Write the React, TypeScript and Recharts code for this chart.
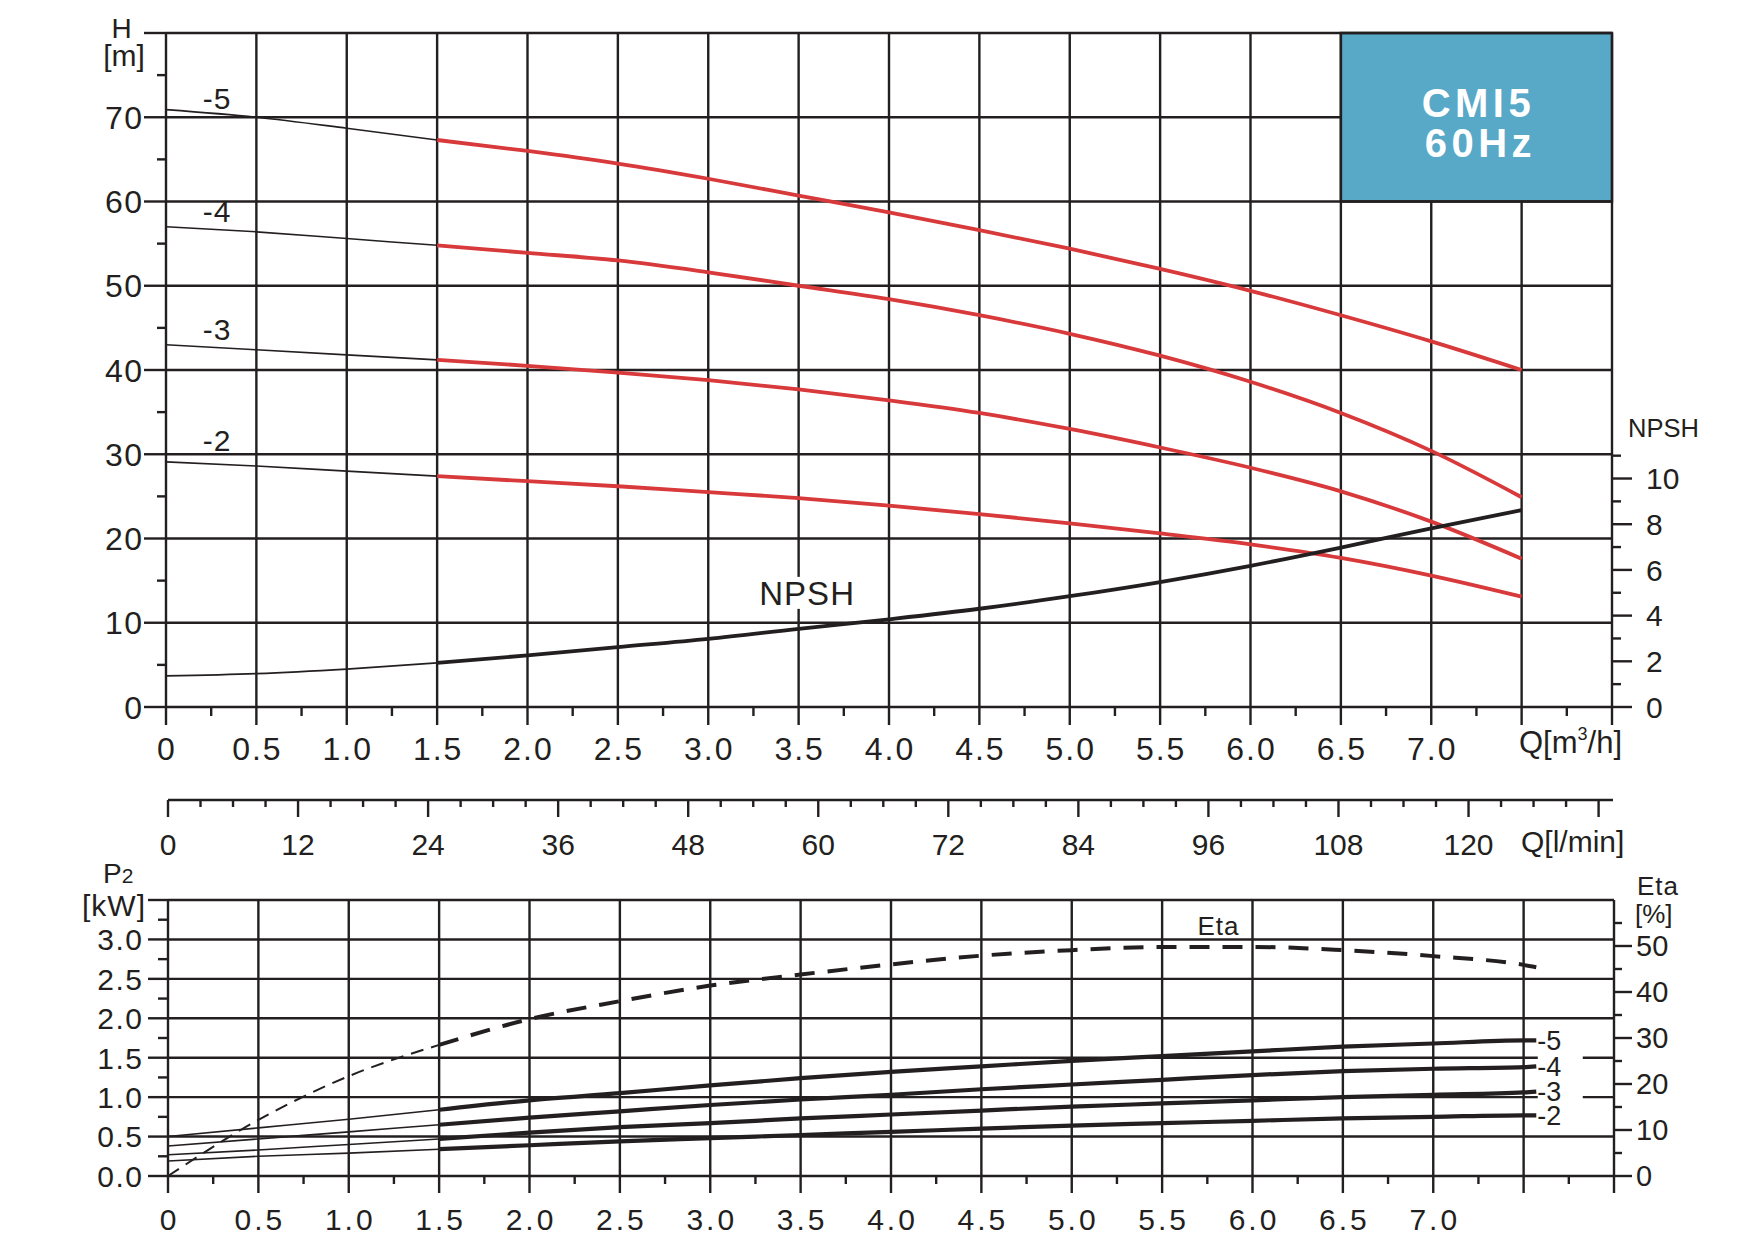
import React from 'react';
import { LineChart, Line, XAxis, YAxis, ReferenceLine, ReferenceArea } from 'recharts';

const INK = '#231f20';
const RED = '#d8393b';
const BADGE = '#58a8c8';
const FONT = '"Liberation Sans", Arial, Helvetica, sans-serif';
const GRID_W = 2.4;

// ---------- Q-H / NPSH section ----------
const flowPoints = [0, 0.5, 1.0, 1.5, 2.0, 2.5, 3.0, 3.5, 4.0, 4.5, 5.0, 5.5, 6.0, 6.5, 7.0, 7.5];
const headStage5 = [70.9, 70.0, 68.7, 67.3, 66.0, 64.5, 62.7, 60.7, 58.7, 56.6, 54.4, 52.0, 49.4, 46.5, 43.4, 40.0];
const headStage4 = [57.0, 56.4, 55.6, 54.8, 53.9, 53.0, 51.6, 50.0, 48.4, 46.5, 44.3, 41.7, 38.6, 34.9, 30.4, 24.9];
const headStage3 = [43.0, 42.4, 41.8, 41.2, 40.5, 39.7, 38.8, 37.7, 36.4, 34.9, 33.0, 30.8, 28.4, 25.6, 22.0, 17.6];
const headStage2 = [29.1, 28.6, 28.0, 27.4, 26.8, 26.2, 25.5, 24.8, 23.9, 22.9, 21.8, 20.6, 19.3, 17.7, 15.6, 13.1];
const npshRequired = [1.36, 1.46, 1.66, 1.93, 2.26, 2.62, 2.98, 3.42, 3.84, 4.3, 4.85, 5.47, 6.18, 6.98, 7.82, 8.62];
const stageNames = ['-5', '-4', '-3', '-2'];

// ---------- P2 / Eta section ----------
const powerFlowPoints = [0, 0.5, 1.0, 1.5, 2.0, 2.5, 3.0, 3.5, 4.0, 4.5, 5.0, 5.5, 6.0, 6.5, 7.0, 7.5, 7.57];
const powerStage5 = [0.5, 0.61, 0.72, 0.84, 0.96, 1.05, 1.15, 1.24, 1.32, 1.39, 1.46, 1.52, 1.58, 1.64, 1.68, 1.72, 1.72];
const powerStage4 = [0.38, 0.47, 0.56, 0.65, 0.74, 0.82, 0.9, 0.97, 1.03, 1.1, 1.16, 1.22, 1.28, 1.33, 1.36, 1.38, 1.39];
const powerStage3 = [0.27, 0.33, 0.4, 0.47, 0.55, 0.62, 0.67, 0.73, 0.78, 0.83, 0.88, 0.92, 0.96, 1.0, 1.03, 1.06, 1.07];
const powerStage2 = [0.19, 0.25, 0.29, 0.34, 0.39, 0.44, 0.48, 0.52, 0.56, 0.6, 0.64, 0.67, 0.7, 0.73, 0.75, 0.77, 0.77];
const efficiency = [0, 12.2, 21.7, 28.5, 34.1, 38.0, 41.4, 43.8, 46.0, 47.9, 49.1, 49.8, 49.8, 49.1, 47.8, 45.9, 45.4];

// ---------- axis ticks and labels ----------
const flowTicks = [0, 0.25, 0.5, 0.75, 1, 1.25, 1.5, 1.75, 2, 2.25, 2.5, 2.75, 3, 3.25, 3.5, 3.75, 4, 4.25, 4.5, 4.75, 5, 5.25, 5.5, 5.75, 6, 6.25, 6.5, 6.75, 7, 7.25, 7.5, 7.75, 8];
const flowLabelStops = [0, 0.5, 1, 1.5, 2, 2.5, 3, 3.5, 4, 4.5, 5, 5.5, 6, 6.5, 7];
const flowLabels = ['0', '0.5', '1.0', '1.5', '2.0', '2.5', '3.0', '3.5', '4.0', '4.5', '5.0', '5.5', '6.0', '6.5', '7.0'];

const headTicks = [0, 5, 10, 15, 20, 25, 30, 35, 40, 45, 50, 55, 60, 65, 70, 75, 80];
const headLabelStops = [0, 10, 20, 30, 40, 50, 60, 70];
const headLabels = ['0', '10', '20', '30', '40', '50', '60', '70'];

const npshTicks = [0, 1, 2, 3, 4, 5, 6, 7, 8, 9, 10, 11];
const npshLabelStops = [0, 2, 4, 6, 8, 10];
const npshLabels = ['0', '2', '4', '6', '8', '10'];

const litreTicks = [0, 3, 6, 9, 12, 15, 18, 21, 24, 27, 30, 33, 36, 39, 42, 45, 48, 51, 54, 57, 60, 63, 66, 69, 72, 75, 78, 81, 84, 87, 90, 93, 96, 99, 102, 105, 108, 111, 114, 117, 120, 123, 126, 129, 132];
const litreLabelStops = [0, 12, 24, 36, 48, 60, 72, 84, 96, 108, 120];
const litreLabels = ['0', '12', '24', '36', '48', '60', '72', '84', '96', '108', '120'];
const litreRange = [0, 133.33];

const powerTicks = [0, 0.25, 0.5, 0.75, 1, 1.25, 1.5, 1.75, 2, 2.25, 2.5, 2.75, 3, 3.25, 3.5];
const powerLabelStops = [0, 0.5, 1, 1.5, 2, 2.5, 3];
const powerLabels = ['0.0', '0.5', '1.0', '1.5', '2.0', '2.5', '3.0'];

const etaTicks = [0, 5, 10, 15, 20, 25, 30, 35, 40, 45, 50, 55];
const etaLabelStops = [0, 10, 20, 30, 40, 50];
const etaLabels = ['0', '10', '20', '30', '40', '50'];

// grid positions
const headGridFlows = [0.5, 1, 1.5, 2, 2.5, 3, 3.5, 4, 4.5, 5, 5.5, 6, 6.5];
const headGridFlowsUnderBadge = [7, 7.5];
const headGridLevels = [10, 20, 30, 40, 50, 60, 80];
const headGridLevelsBesideBadge = [70];
const powerGridFlows = [0.5, 1, 1.5, 2, 2.5, 3, 3.5, 4, 4.5, 5, 5.5, 6, 6.5, 7, 7.5];
const powerGridLevels = [0.5, 1, 1.5, 2, 2.5, 3, 3.5];

// ---------- helpers ----------
const near = (a: number, b: number) => Math.abs(a - b) < 1e-6;
const isMultiple = (v: number, step: number) => near(v / step, Math.round(v / step));
const labelOf = (stops: number[], texts: string[], v: number) => {
  const i = stops.findIndex((s) => near(s, v));
  return i >= 0 ? texts[i] : null;
};
const toPoints = (xs: number[], ys: number[], from: number, to: number) =>
  ys.slice(from, to + 1).map((v, i) => ({ q: xs[from + i], v }));

type TickOpts = {
  side: 'left' | 'right' | 'bottom';
  majorStep: number;
  majorLen: number;
  minorLen: number;
  stops: number[];
  texts: string[];
  gap: number;
  fontSize: number;
  spacing?: number;
};

function axisTick(o: TickOpts) {
  return (props: any) => {
    const { x, y, payload } = props;
    const v = Number(payload?.value);
    const len = isMultiple(v, o.majorStep) ? o.majorLen : o.minorLen;
    const text = labelOf(o.stops, o.texts, v);
    const sp = o.spacing ?? 0;
    const textStyle = { fill: INK, fontFamily: FONT, fontSize: o.fontSize, letterSpacing: sp };
    if (o.side === 'bottom') {
      return (
        <g>
          <line x1={x} x2={x} y1={y} y2={y + len} stroke={INK} strokeWidth={GRID_W} />
          {text !== null && (
            <text x={x + sp / 2} y={y + o.gap + o.fontSize * 0.36} textAnchor="middle" {...textStyle}>
              {text}
            </text>
          )}
        </g>
      );
    }
    const dir = o.side === 'left' ? -1 : 1;
    return (
      <g>
        <line x1={x} x2={x + dir * len} y1={y} y2={y} stroke={INK} strokeWidth={GRID_W} />
        {text !== null && (
          <text
            x={x + dir * o.gap + (dir < 0 ? sp : 0)}
            y={y + o.fontSize * 0.36}
            textAnchor={dir < 0 ? 'end' : 'start'}
            {...textStyle}
          >
            {text}
          </text>
        )}
      </g>
    );
  };
}

const pointOf = (props: any) => {
  const vb = props.viewBox || {};
  return { px: props.x ?? vb.x, py: props.y ?? vb.y };
};

// ---------- tick renderers ----------
const flowTickTop = axisTick({ side: 'bottom', majorStep: 0.5, majorLen: 18, minorLen: 9, stops: flowLabelStops, texts: flowLabels, gap: 41, fontSize: 32, spacing: 2 });
const headTick = axisTick({ side: 'left', majorStep: 10, majorLen: 22, minorLen: 9, stops: headLabelStops, texts: headLabels, gap: 24, fontSize: 32, spacing: 1.5 });
const npshTick = axisTick({ side: 'right', majorStep: 2, majorLen: 20, minorLen: 9, stops: npshLabelStops, texts: npshLabels, gap: 34, fontSize: 30 });
const litreTick = axisTick({ side: 'bottom', majorStep: 12, majorLen: 17, minorLen: 7, stops: litreLabelStops, texts: litreLabels, gap: 44, fontSize: 30 });
const flowTickBottom = axisTick({ side: 'bottom', majorStep: 0.5, majorLen: 17, minorLen: 8, stops: flowLabelStops, texts: flowLabels, gap: 43, fontSize: 30, spacing: 3 });
const powerTick = axisTick({ side: 'left', majorStep: 0.5, majorLen: 20, minorLen: 10, stops: powerLabelStops, texts: powerLabels, gap: 26, fontSize: 30, spacing: 1.5 });
const etaTick = axisTick({ side: 'right', majorStep: 10, majorLen: 18, minorLen: 8, stops: etaLabelStops, texts: etaLabels, gap: 22, fontSize: 29 });

const txt = { fill: INK, fontFamily: FONT };

// ---------- axis titles ----------
const headTitle = () => (
  <g>
    <text x={121.5} y={38} textAnchor="middle" fontSize={28} {...txt}>H</text>
    <text x={124} y={66} textAnchor="middle" fontSize={30} {...txt}>[m]</text>
  </g>
);
const npshTitle = () => (
  <text x={1628} y={436.5} fontSize={25.5} {...txt}>NPSH</text>
);
const flowUnitTitle = () => (
  <text x={1519} y={752.5} fontSize={31} {...txt}>
    Q[m<tspan dy={-13} fontSize={18}>3</tspan>
    <tspan dy={13}>/h]</tspan>
  </text>
);
// middle chart svg starts at page y = 740
const litreUnitTitle = () => (
  <text x={1521} y={852 - 740} fontSize={30} {...txt}>Q[l/min]</text>
);
// bottom chart svg starts at page y = 840
const powerTitle = () => (
  <g>
    <text x={103} y={883 - 840} fontSize={28} {...txt}>
      P<tspan fontSize={21}>2</tspan>
    </text>
    <text x={82} y={915.5 - 840} fontSize={30} letterSpacing={1} {...txt}>[kW]</text>
  </g>
);
const etaTitle = () => (
  <g>
    <text x={1637} y={895 - 840} fontSize={26} letterSpacing={1} {...txt}>Eta</text>
    <text x={1635} y={922.5 - 840} fontSize={26} {...txt}>[%]</text>
  </g>
);

const badgeText = (props: any) => {
  const vb = props.viewBox || {};
  const cx = vb.x + vb.width / 2;
  return (
    <g>
      <text x={cx + 2} y={vb.y + 83.5} textAnchor="middle" fontSize={40} fontWeight="bold" letterSpacing={4.5} fill="#ffffff" fontFamily={FONT}>CMI5</text>
      <text x={cx + 4} y={vb.y + 123.5} textAnchor="middle" fontSize={40} fontWeight="bold" letterSpacing={4.5} fill="#ffffff" fontFamily={FONT}>60Hz</text>
    </g>
  );
};

// ---------- series definitions ----------
const SPLIT = 3; // curves are drawn heavy from Q = 1.5 onwards
const headSeries = [
  { name: stageNames[0], values: headStage5, labelDy: -12 },
  { name: stageNames[1], values: headStage4, labelDy: -16 },
  { name: stageNames[2], values: headStage3, labelDy: -16 },
  { name: stageNames[3], values: headStage2, labelDy: -22 },
];
const powerSeries = [
  { name: stageNames[0], values: powerStage5 },
  { name: stageNames[1], values: powerStage4 },
  { name: stageNames[2], values: powerStage3 },
  { name: stageNames[3], values: powerStage2 },
];

const lastFlow = flowPoints.length - 1;
const lastPower = powerFlowPoints.length - 1;

const stageLabelStart = (name: string, dy: number) => (props: any) => {
  if (props.index !== 0) return null;
  const { px, py } = pointOf(props);
  return (
    <text x={px + 51} y={py + dy + 11} textAnchor="middle" fontSize={30} letterSpacing={1} {...txt}>{name}</text>
  );
};

const stageLabelEnd = (name: string, lastIndex: number) => (props: any) => {
  if (props.index !== lastIndex) return null;
  const { px, py } = pointOf(props);
  return (
    <g>
      <rect x={px + 1.5} y={py - 13} width={45} height={26} fill="#ffffff" />
      <text x={px + 1} y={py + 9.5} fontSize={27} {...txt}>{name}</text>
    </g>
  );
};

const npshCurveLabel = (props: any) => {
  if (props.index !== 4) return null;
  const { px, py } = pointOf(props);
  const cx = px + 8;
  const cy = py - 36;
  return (
    <g>
      <rect x={cx - 50} y={cy - 16} width={100} height={32} fill="#ffffff" />
      <text x={cx + 0.5} y={cy + 12} textAnchor="middle" fontSize={33} letterSpacing={1} {...txt}>NPSH</text>
    </g>
  );
};

const etaCurveLabel = (props: any) => {
  if (props.index !== 9) return null;
  const { px, py } = pointOf(props);
  return (
    <text x={px - 34} y={py - 12} textAnchor="middle" fontSize={26} letterSpacing={1} {...txt}>Eta</text>
  );
};

const gridStroke = { stroke: INK, strokeWidth: GRID_W };
const axisLineStyle = { stroke: INK, strokeWidth: GRID_W };

function HeadChart() {
  return (
    <LineChart width={1759} height={770} margin={{ top: 33, right: 0, bottom: 0, left: 0 }}>
      <XAxis
        type="number"
        dataKey="q"
        domain={[0, 8]}
        ticks={flowTicks}
        interval={0}
        height={63}
        tickSize={0}
        tickMargin={0}
        tickLine={false}
        axisLine={axisLineStyle}
        tick={flowTickTop}
        label={flowUnitTitle}
      />
      <YAxis
        yAxisId="h"
        type="number"
        domain={[0, 80]}
        ticks={headTicks}
        interval={0}
        width={166}
        tickSize={0}
        tickMargin={0}
        tickLine={false}
        axisLine={axisLineStyle}
        tick={headTick}
        label={headTitle}
      />
      <YAxis
        yAxisId="npsh"
        orientation="right"
        type="number"
        domain={[0, 29.5]}
        ticks={npshTicks}
        interval={0}
        width={147}
        tickSize={0}
        tickMargin={0}
        tickLine={false}
        axisLine={axisLineStyle}
        tick={npshTick}
        label={npshTitle}
      />

      {headGridFlows.map((q) => (
        <ReferenceLine key={`vx-${q}`} x={q} yAxisId="h" {...gridStroke} />
      ))}
      {headGridFlowsUnderBadge.map((q) => (
        <ReferenceLine key={`vxs-${q}`} yAxisId="h" segment={[{ x: q, y: 0 }, { x: q, y: 60 }]} {...gridStroke} />
      ))}
      {headGridLevels.map((h) => (
        <ReferenceLine key={`hy-${h}`} y={h} yAxisId="h" {...gridStroke} />
      ))}
      {headGridLevelsBesideBadge.map((h) => (
        <ReferenceLine key={`hys-${h}`} yAxisId="h" segment={[{ x: 0, y: h }, { x: 6.5, y: h }]} {...gridStroke} />
      ))}

      <ReferenceArea
        yAxisId="h"
        x1={6.5}
        x2={8}
        y1={60}
        y2={80}
        fill={BADGE}
        fillOpacity={1}
        stroke={INK}
        strokeWidth={GRID_W}
        label={badgeText}
      />

      {headSeries.map((s) => (
        <Line
          key={`thin-${s.name}`}
          yAxisId="h"
          data={toPoints(flowPoints, s.values, 0, SPLIT)}
          dataKey="v"
          type="monotone"
          stroke={INK}
          strokeWidth={1.6}
          dot={false}
          activeDot={false}
          isAnimationActive={false}
          label={stageLabelStart(s.name, s.labelDy)}
        />
      ))}
      {headSeries.map((s) => (
        <Line
          key={`red-${s.name}`}
          yAxisId="h"
          data={toPoints(flowPoints, s.values, SPLIT, lastFlow)}
          dataKey="v"
          type="monotone"
          stroke={RED}
          strokeWidth={3.8}
          dot={false}
          activeDot={false}
          isAnimationActive={false}
        />
      ))}
      <Line
        yAxisId="npsh"
        data={toPoints(flowPoints, npshRequired, 0, SPLIT)}
        dataKey="v"
        type="monotone"
        stroke={INK}
        strokeWidth={1.8}
        dot={false}
        activeDot={false}
        isAnimationActive={false}
      />
      <Line
        yAxisId="npsh"
        data={toPoints(flowPoints, npshRequired, SPLIT, lastFlow)}
        dataKey="v"
        type="monotone"
        stroke={INK}
        strokeWidth={3.8}
        dot={false}
        activeDot={false}
        isAnimationActive={false}
        label={npshCurveLabel}
      />
    </LineChart>
  );
}

function LitreAxis() {
  return (
    <LineChart
      width={1759}
      height={130}
      data={litreRange.map((l) => ({ l }))}
      margin={{ top: 0, right: 146, bottom: 0, left: 168 }}
    >
      <XAxis
        type="number"
        dataKey="l"
        domain={[0, 133.33]}
        ticks={litreTicks}
        interval={0}
        height={70}
        tickSize={0}
        tickMargin={0}
        tickLine={false}
        axisLine={axisLineStyle}
        tick={litreTick}
        label={litreUnitTitle}
      />
      <YAxis hide domain={[0, 1]} />
    </LineChart>
  );
}

function PowerChart() {
  return (
    <LineChart width={1759} height={420} margin={{ top: 60, right: 0, bottom: 0, left: 0 }}>
      <XAxis
        type="number"
        dataKey="q"
        domain={[0, 8]}
        ticks={flowTicks}
        interval={0}
        height={84}
        tickSize={0}
        tickMargin={0}
        tickLine={false}
        axisLine={axisLineStyle}
        tick={flowTickBottom}
      />
      <YAxis
        yAxisId="p2"
        type="number"
        domain={[0, 3.5]}
        ticks={powerTicks}
        interval={0}
        width={168}
        tickSize={0}
        tickMargin={0}
        tickLine={false}
        axisLine={axisLineStyle}
        tick={powerTick}
        label={powerTitle}
      />
      <YAxis
        yAxisId="eta"
        orientation="right"
        type="number"
        domain={[0, 60]}
        ticks={etaTicks}
        interval={0}
        width={145}
        tickSize={0}
        tickMargin={0}
        tickLine={false}
        axisLine={axisLineStyle}
        tick={etaTick}
        label={etaTitle}
      />

      {powerGridFlows.map((q) => (
        <ReferenceLine key={`pvx-${q}`} x={q} yAxisId="p2" {...gridStroke} />
      ))}
      {powerGridLevels.map((p) => (
        <ReferenceLine key={`phy-${p}`} y={p} yAxisId="p2" {...gridStroke} />
      ))}

      {powerSeries.map((s) => (
        <Line
          key={`pthin-${s.name}`}
          yAxisId="p2"
          data={toPoints(powerFlowPoints, s.values, 0, SPLIT)}
          dataKey="v"
          type="monotone"
          stroke={INK}
          strokeWidth={1.6}
          dot={false}
          activeDot={false}
          isAnimationActive={false}
        />
      ))}
      {powerSeries.map((s) => (
        <Line
          key={`pthick-${s.name}`}
          yAxisId="p2"
          data={toPoints(powerFlowPoints, s.values, SPLIT, lastPower)}
          dataKey="v"
          type="monotone"
          stroke={INK}
          strokeWidth={4.2}
          dot={false}
          activeDot={false}
          isAnimationActive={false}
          label={stageLabelEnd(s.name, lastPower - SPLIT)}
        />
      ))}
      <Line
        yAxisId="eta"
        data={toPoints(powerFlowPoints, efficiency, 0, SPLIT)}
        dataKey="v"
        type="monotone"
        stroke={INK}
        strokeWidth={2}
        strokeDasharray="13 8"
        dot={false}
        activeDot={false}
        isAnimationActive={false}
      />
      <Line
        yAxisId="eta"
        data={toPoints(powerFlowPoints, efficiency, SPLIT, lastPower)}
        dataKey="v"
        type="monotone"
        stroke={INK}
        strokeWidth={4}
        strokeDasharray="20 13"
        dot={false}
        activeDot={false}
        isAnimationActive={false}
        label={etaCurveLabel}
      />
    </LineChart>
  );
}

export default function App() {
  return (
    <div style={{ position: 'absolute', left: 0, top: 0, width: 1759, height: 1260, background: '#ffffff', overflow: 'hidden' }}>
      <div style={{ position: 'absolute', left: 0, top: 0 }}>
        <HeadChart />
      </div>
      <div style={{ position: 'absolute', left: 0, top: 740 }}>
        <LitreAxis />
      </div>
      <div style={{ position: 'absolute', left: 0, top: 840 }}>
        <PowerChart />
      </div>
    </div>
  );
}
